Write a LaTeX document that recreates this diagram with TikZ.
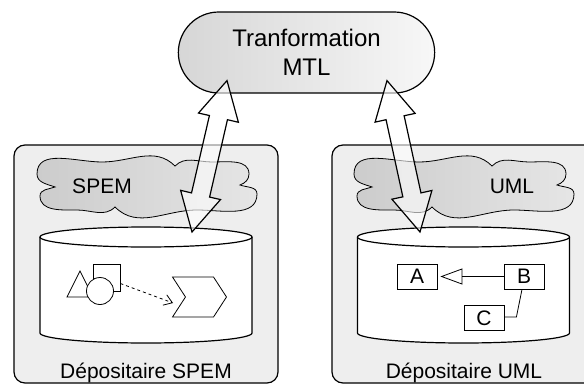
\documentclass[tikz,border=0pt]{standalone}
\usepackage{fontspec}
\setmainfont{Liberation Sans}
\usetikzlibrary{calc}
\usetikzlibrary{shapes.geometric}
\usetikzlibrary{shapes.misc}
\usetikzlibrary{shapes.symbols}
\usetikzlibrary{arrows.meta}
\usetikzlibrary{positioning}

% double block arrow between two points
\newcommand{\bigarrow}[2]{%
  \draw[bigarrow] (#1) -- ($(#1)!43.2pt!28.3:(#2)$) -- ($(#1)!39.1pt!13.7:(#2)$)
    -- ($(#2)!39.1pt!-13.7:(#1)$) -- ($(#2)!43.2pt!-28.3:(#1)$) -- (#2)
    -- ($(#2)!43.2pt!28.3:(#1)$) -- ($(#2)!39.1pt!13.7:(#1)$)
    -- ($(#1)!39.1pt!-13.7:(#2)$) -- ($(#1)!43.2pt!-28.3:(#2)$) -- cycle;
}

% data store drum, #1 = name, #2 = centre of the top ellipse
\newcommand{\drum}[2]{%
  \coordinate (#1) at (#2);
  \draw[store] ([xshift=-106]#1) -- ++(0,96)
    arc[start angle=180, end angle=0, x radius=106, y radius=10] -- ([xshift=106]#1);
  \draw[store] (#1) ellipse[x radius=106, y radius=10];
  \coordinate (#1 top) at ([yshift=10]#1);
}

% flat cloud, #1 = name, #2 = centre
\newcommand{\metacloud}[2]{%
  \coordinate (#1) at (#2);
  \draw[meta, shift={(#1)}]
    (-92,1) to[out=160, in=-90] (-110,-12) to[out=90, in=180] (-45,-24)
    to[out=0, in=135] (28,-20) to[out=45, in=180] (65,-24)
    to[out=0, in=90] (102,-12) to[out=-90, in=20] (93,-1)
    to[out=-20, in=90] (110,8) to[out=-90, in=0] (50,24)
    to[out=180, in=-45] (-32,21) to[out=-135, in=0] (-70,24)
    to[out=180, in=-90] (-107,10) to[out=90, in=-160] cycle;
}

\begin{document}
\begin{tikzpicture}[x=1pt, y=-1pt]

\tikzset{
    bigtext/.style={font=\fontsize{24}{29}\selectfont},
    midtext/.style={font=\fontsize{21}{25}\selectfont},
    repo/.style={draw, line width=1.2pt, rounded corners=11pt, fill=gray!13,
      minimum width=264, minimum height=238},
    meta/.style={line width=0.8pt, left color=gray!40, right color=gray!20},
    store/.style={line width=1.2pt, fill=white},
    bigarrow/.style={draw, line width=1.2pt, fill=white, fill opacity=0.6,
      line join=miter},
    classbox/.style={draw, line width=0.8pt, fill=white, minimum width=40,
      minimum height=25, inner sep=0pt, midtext},
    myline/.style={line width=0.8pt}
}

\clip (0,0) rectangle (584,388);

%%%%%%%%%%%%%%%%%%%%%%%%%%%%%%%%%%%%%%%%%%%%%%%%%%%%%%%%%
%                       Begin Picture                   %
%%%%%%%%%%%%%%%%%%%%%%%%%%%%%%%%%%%%%%%%%%%%%%%%%%%%%%%%%

%transformation
\node[rounded rectangle, draw, line width=1.2pt, left color=gray!32, right color=gray!6,
  minimum width=263, minimum height=81, align=center, bigtext] (mtl) at (306.5,52.5)
  {Tranformation\\MTL};

%left repository
\node[repo] (repoL) at (146,264) {};
\node[midtext, anchor=base] (repoLlabel) at ([yshift=5]repoL.south) {Dépositaire SPEM};
\metacloud{spem}{147,186}
\node[midtext] (spemlabel) at ([xshift=-45]spem) {SPEM};
\drum{storeL}{146,237}

%right repository
\node[repo] (repoR) at (464,264) {};
\node[midtext, anchor=base] (repoRlabel) at ([yshift=5]repoR.south) {Dépositaire UML};
\metacloud{uml}{464,186}
\node[midtext] (umllabel) at ([xshift=48]uml) {UML};
\drum{storeR}{463.5,237}

%SPEM process elements
\draw[myline, fill=white] (80,271) -- (93,297) -- (67,297) -- cycle;
\node[draw, myline, fill=white, minimum size=27, inner sep=0pt] (sq) at (106.5,277.5) {};
\node[circle, draw, myline, fill=white, minimum size=27, inner sep=0pt] (circ) at (100,291) {};
\node[signal, signal from=west, signal to=east, signal pointer angle=114, draw, myline,
  fill=white, minimum width=54, minimum height=40, inner sep=0pt] (chev) at (199.5,297) {};
\draw[myline, dashed, -{Straight Barb[length=8pt, width=11pt]}]
  ([yshift=-6]sq.east) -- ([xshift=-12, yshift=-6]chev.west);

%UML classes
\node[classbox] (A) at (417,276.5) {A};
\node[classbox] (B) at (524,276.5) {B};
\node[classbox] (C) at (484,318) {C};
\draw[myline, -{Triangle[open, length=22pt, width=16pt]}, shorten >=3pt] (B.west) -- (A.east);
\draw[myline] ([xshift=-2]B.south) -- ([xshift=12, yshift=1]C.east) -- ([yshift=1]C.east);

%double arrows
\coordinate (lt) at ([xshift=-79.5, yshift=13]mtl.south);
\coordinate (lb) at ([xshift=46, yshift=-5]storeL top);
\coordinate (rt) at ([xshift=80.5, yshift=13]mtl.south);
\coordinate (rb) at ([xshift=-43.5, yshift=-5]storeR top);
\bigarrow{lt}{lb}
\bigarrow{rt}{rb}

\end{tikzpicture}
\end{document}
